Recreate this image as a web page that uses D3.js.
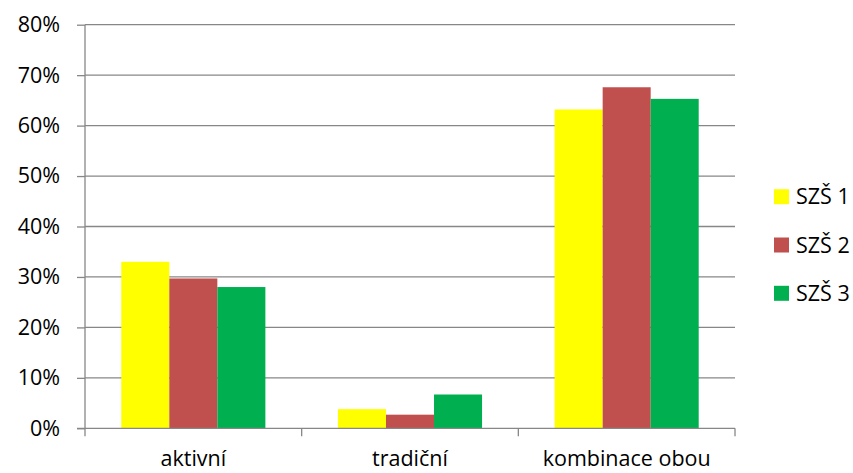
<!DOCTYPE html>
<html>
<head>
<meta charset="utf-8">
<script src="https://cdn.jsdelivr.net/npm/d3@7"></script>
<style>
  html, body { margin: 0; padding: 0; background: #fff; }
  svg { display: block; font-family: "Open Sans", sans-serif; }
</style>
</head>
<body>
<svg id="chart" width="853" height="473"></svg>
<script>
// Categories, series and their percentage values
const categories = ["aktivní", "tradiční", "kombinace obou"];
const seriesNames = ["SZŠ 1", "SZŠ 2", "SZŠ 3"];
const seriesColors = ["#ffff00", "#c0504d", "#00b050"];
const szs1 = [33.0, 3.8, 63.2];
const szs2 = [29.7, 2.7, 67.6];
const szs3 = [28.0, 6.7, 65.3];
const yTicks = [0, 10, 20, 30, 40, 50, 60, 70, 80];

const seriesValues = [szs1, szs2, szs3];

const svg = d3.select("#chart");
const plotLeft = 85, plotRight = 735, plotTop = 24.7, plotBottom = 428.3;
const fontSize = 21.5;
const fontFamily = "'Open Sans', sans-serif";

const x = d3.scaleBand().domain(categories).range([plotLeft, plotRight])
  .paddingInner(0.335).paddingOuter(0.1675);
const xs = d3.scaleBand().domain(seriesNames).range([0, x.bandwidth()]);
const y = d3.scaleLinear().domain([0, 80]).range([plotBottom, plotTop]);

const gridColor = "#878787";

// horizontal gridlines
svg.append("g").selectAll("line").data(yTicks.filter(d => d > 0)).join("line")
  .attr("x1", plotLeft).attr("x2", plotRight)
  .attr("y1", d => y(d)).attr("y2", d => y(d))
  .attr("stroke", gridColor).attr("stroke-width", 1.3);

// bars
const groups = svg.append("g").selectAll("g").data(categories).join("g")
  .attr("transform", c => `translate(${x(c)},0)`);
groups.selectAll("rect")
  .data((c, i) => seriesNames.map((s, j) => ({ s, j, v: seriesValues[j][i] })))
  .join("rect")
  .attr("x", d => xs(d.s))
  .attr("width", xs.bandwidth())
  .attr("y", d => y(d.v))
  .attr("height", d => y(0) - y(d.v))
  .attr("fill", d => seriesColors[d.j]);

// y axis
const yAxis = svg.append("g").attr("transform", `translate(${plotLeft},0)`)
  .call(d3.axisLeft(y).tickValues(yTicks).tickSize(8).tickPadding(17)
    .tickFormat(d => d + "%"));
yAxis.select(".domain").attr("stroke", gridColor).attr("stroke-width", 1.3)
  .attr("d", `M0,${plotTop}V${plotBottom}`);
yAxis.selectAll(".tick line").attr("stroke", gridColor).attr("stroke-width", 1.3);
yAxis.selectAll(".tick text").attr("font-size", fontSize).attr("fill", "#000")
  .attr("font-family", fontFamily);

// x axis with boundary ticks
const xAxisG = svg.append("g");
xAxisG.append("line").attr("x1", plotLeft - 8).attr("x2", plotRight)
  .attr("y1", plotBottom).attr("y2", plotBottom)
  .attr("stroke", gridColor).attr("stroke-width", 1.3);
const bounds = [plotLeft].concat(categories.map(c => x(c) + x.bandwidth() + x.step() * x.paddingInner() / 2));
bounds[bounds.length - 1] = plotRight;
xAxisG.selectAll("line.b").data(bounds).join("line").attr("class", "b")
  .attr("x1", d => d).attr("x2", d => d)
  .attr("y1", plotBottom).attr("y2", plotBottom + 8)
  .attr("stroke", gridColor).attr("stroke-width", 1.3);
xAxisG.selectAll("text").data(categories).join("text")
  .attr("x", c => x(c) + x.bandwidth() / 2)
  .attr("y", 466)
  .attr("text-anchor", "middle")
  .attr("font-size", fontSize).attr("fill", "#000")
  .text(c => c);

// legend
const legend = svg.append("g").selectAll("g").data(seriesNames).join("g")
  .attr("transform", (d, i) => `translate(774,${196.7 + i * 48.3})`);
legend.append("rect").attr("x", 0).attr("y", -7.5).attr("width", 15).attr("height", 15)
  .attr("fill", (d, i) => seriesColors[i]);
legend.append("text").attr("x", 22).attr("y", 0).attr("dy", "0.35em")
  .attr("font-size", fontSize).attr("fill", "#000").text(d => d);
</script>
</body>
</html>
